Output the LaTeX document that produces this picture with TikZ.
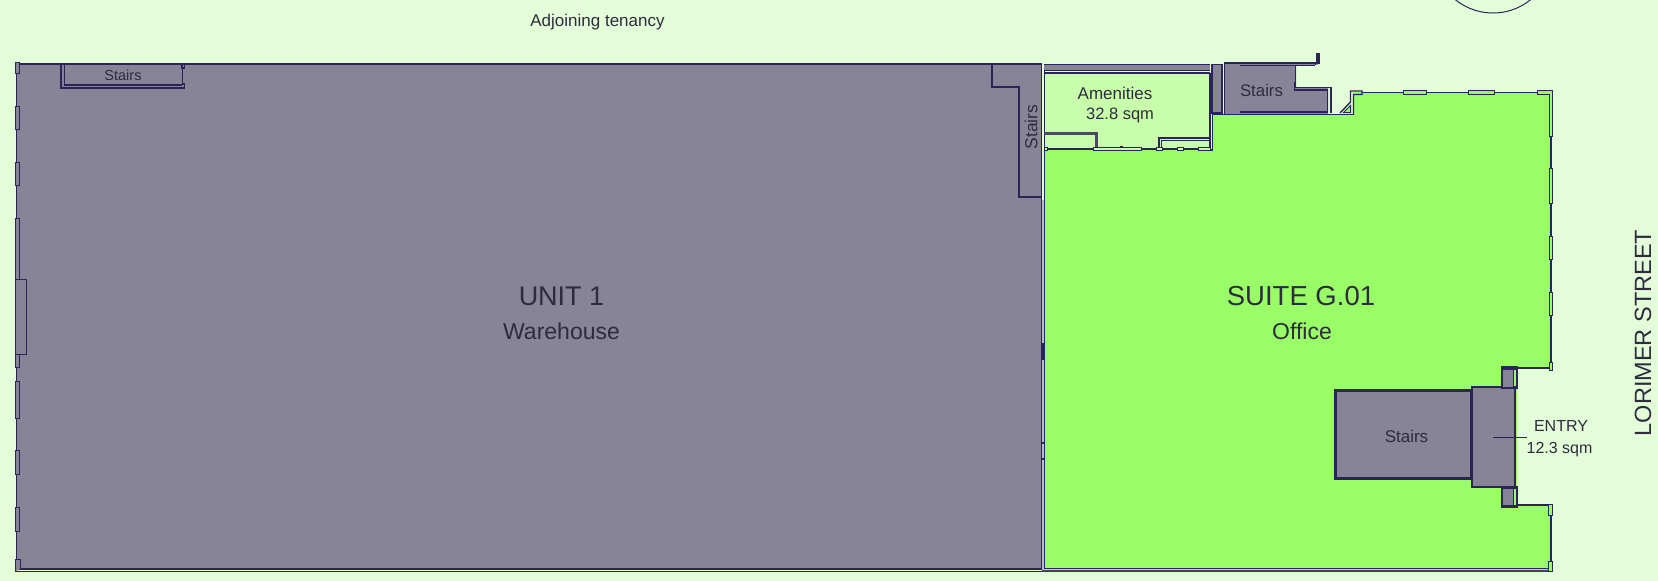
\documentclass[tikz,border=0pt]{standalone}
\usepackage{fontspec}
\setmainfont{Liberation Sans}
\definecolor{bgc}{HTML}{E3FDD8}
\definecolor{suitec}{HTML}{98FD66}
\definecolor{amenc}{HTML}{C8FDAC}
\definecolor{greyc}{HTML}{888498}
\definecolor{linec}{HTML}{2A2458}
\definecolor{textc}{HTML}{2F2B3E}
\definecolor{softwall}{HTML}{4C4A62}
\tikzset{
 wall/.style={draw=linec,line width=1.4pt,line join=miter},
 thin wall/.style={draw=linec,line width=1pt},
 thick wall/.style={draw=linec,line width=3.4pt},
 grey wall/.style={draw=softwall,line width=3.2pt},
 win/.style={draw=linec,line width=1pt,fill=greyc},
 wing/.style={draw=linec,line width=1pt,fill=suitec},
 lab/.style={text=textc,inner sep=0pt,anchor=center},
}
\begin{document}
\begin{tikzpicture}[x=1pt,y=-1pt]
\useasboundingbox (0,0) rectangle (1658,581);
\fill[bgc] (0,0) rectangle (1658,581);
\begin{scope}
\clip (0,0) rectangle (1658,581);
\draw[thin wall] (1493,-47) circle (60);
\end{scope}
% suite floor
\fill[suitec] (1044,149) -- (1212,149) -- (1212,114) -- (1353,114) -- (1353,92) -- (1551,92) -- (1551,368) -- (1517,368) -- (1517,505) -- (1551,505) -- (1551,570) -- (1044,570) -- cycle;
% amenities
\fill[amenc] (1044,72) rectangle (1210,149);
% unit 1
\fill[greyc] (16.5,64) rectangle (1042,570);
\fill[greyc!55!white] (1042,200) rectangle (1044,570);
\draw[wall] (16.5,64) -- (1042,64);
\draw[wall] (16.5,64) -- (16.5,569) -- (1042,569);
\draw[wall] (15,571.5) -- (1042,571.5);
\draw[wall] (1041.5,64) -- (1041.5,570);
\draw[wall] (1044.5,65) -- (1044.5,569);
\draw[wall] (1045,568.5) -- (1550,568.5);
\draw[wall,draw=linec!70!gray] (1042,571) -- (1552,571) -- (1552,561);
% left windows
\foreach \a/\b in {62/73.7,106.5/129.4,162/185,218/279,354/367,381/418.5,450/474,507/531}
  \draw[win] (15.5,\a) rectangle (19.3,\b);
\draw[win] (15.5,279) rectangle (26.7,354);
\draw[win] (15.5,571.5) -- (15.5,559.5) -- (20,559.5) -- (20,569);
% top-left stairs
\draw[wall] (61,64) -- (61,88) -- (184.5,88) -- (184.5,84) -- (182.3,84) -- (182.3,68);
\draw[wall] (64.3,64) -- (64.3,85) -- (182,85);
\draw[wall] (182,64) -- (182,68) -- (184.5,68) -- (184.5,64);
% centre stairs
\draw[wall] (992,64) -- (992,87) -- (1019,87) -- (1019,197) -- (1042,197);
% centre wall details
\fill[linec] (1041,343) rectangle (1044,360);
\draw[wall] (1042,443) -- (1045,443);
\draw[wall] (1042,459) -- (1045,459);
% amenities top strip
\fill[greyc] (1044,65) rectangle (1210,71);
\draw[wall] (1044,64.5) -- (1210,64.5);
\draw[wall] (1044,70.5) -- (1210,70.5);
\draw[wall] (1044,73) -- (1210,73);
% amenities side and lower wall
\draw[wall] (1210,73) -- (1210,148);
\draw[wall] (1212.5,114) -- (1212.5,150) -- (1199,150);
\draw[wall] (1044,149) -- (1198,149);
\draw[grey wall] (1044,133.5) -- (1096.5,133.5) -- (1096.5,148);
\draw[wall] (1159,148) -- (1159,138) -- (1210,138);
\draw[wall] (1161.5,148) -- (1161.5,140.5) -- (1210,140.5);
\draw[wing,fill=amenc] (1093,147.5) rectangle (1141,150.5);
\fill[linec] (1120,145.5) rectangle (1123,148);
\draw[wing,fill=amenc] (1156,147.5) rectangle (1162,150.5);
\draw[wing,fill=amenc] (1177,147.5) rectangle (1183,150.5);
\draw[wing,fill=amenc] (1198,147.5) rectangle (1210,150.5);
\draw[wing,fill=amenc] (1044,147.5) rectangle (1047,150.5);
% narrow grey rect
\draw[win,line width=1.4pt] (1212,64.5) rectangle (1222,113);
\draw[wall] (1212,114.5) -- (1224,114.5);
% stairs at top
\fill[greyc] (1224,63) -- (1296,63) -- (1296,88) -- (1328,88) -- (1328,114) -- (1224,114) -- cycle;
\draw[wall] (1224.5,114) -- (1224.5,63) -- (1240,63);
\fill[greyc] (1240,62) rectangle (1318,65);
\draw[wall] (1240,63) -- (1319,63) -- (1319,53);
\draw[wall] (1240,65.5) -- (1315,65.5);
\draw[wall] (1315.5,65) -- (1315.5,62);
\fill[linec] (1315.5,52.5) rectangle (1319,63);
\fill[greyc] (1240,63.8) rectangle (1315,64.6);
\draw[wall] (1295.5,65) -- (1295.5,88);
\draw[wall] (1294.5,82) -- (1294.5,90) -- (1328,90);
\draw[wall] (1296,87.5) -- (1331,87.5) -- (1331,113);
\draw[wall] (1327.5,90) -- (1327.5,113);
\draw[wall] (1224,114.5) -- (1353,114.5);
\draw[wall] (1240,112) -- (1328,112);
% corner and triangle
\draw[wall] (1340,113) -- (1350.5,102) -- (1350.5,91) -- (1362,91) -- (1362,94.5) -- (1353.5,94.5) -- (1353.5,115);
\draw[wing] (1343.5,112.5) -- (1350.5,105.5) -- (1350.5,112.5) -- cycle;
% top line and windows
\draw[wall] (1362,92.5) -- (1551,92.5);
\draw[wing] (1403,90.5) rectangle (1426,94.7);
\draw[wing] (1468,90.5) rectangle (1494,94.7);
\draw[wing] (1537,90.5) -- (1552,90.5) -- (1552,136) -- (1549,136) -- (1549,94.7) -- (1537,94.7) -- cycle;
% right wall
\draw[wall] (1551,136) -- (1551,368) -- (1517,368);
\foreach \a/\b in {168/203,236/259,292/315,362/370}
  \draw[wing] (1549,\a) rectangle (1552.5,\b);
\draw[wall] (1517,505) -- (1551,505) -- (1551,570);
\draw[wing] (1548.5,504) rectangle (1552,515);
\draw[wing] (1548.5,561) rectangle (1552,571);
% entry and lower stairs
\draw[thick wall,fill=greyc] (1335.5,390.5) rectangle (1472,478.5);
\draw[wall,fill=greyc] (1472,387) rectangle (1515,487);
\draw[wall,line width=2.4pt] (1472,386) -- (1472,488);
% small blocks
\draw[wall,fill=greyc] (1502,367) rectangle (1513.5,388);
\draw[wall] (1513.5,367) -- (1517,367) -- (1517,388) -- (1502,388);
\fill[linec] (1502,366.5) rectangle (1517,369.5);
\draw[wall,fill=greyc] (1502,486.5) rectangle (1513.5,507);
\draw[wall] (1513.5,486.5) -- (1517,486.5) -- (1517,507) -- (1502,507);
\fill[linec] (1502,486) rectangle (1517,489);
\fill[linec] (1502,505) rectangle (1517,508);
% entry tick
\coordinate (tickA) at (1493,437);
\coordinate (tickB) at (1527,437);
\draw[thin wall] (tickA) -- (tickB);
% labels
\node[lab,font=\fontsize{17}{19}\selectfont] (adj) at (597.5,22.5) {Adjoining tenancy};
\node[lab,font=\fontsize{14.5}{16}\selectfont] (s1) at (123,75) {Stairs};
\node[lab,font=\fontsize{17.5}{19}\selectfont,rotate=90] (s2) at (1031,127) {Stairs};
\node[lab,font=\fontsize{16.8}{19}\selectfont] (s3) at (1261.5,90) {Stairs};
\node[lab,font=\fontsize{17}{19}\selectfont] (s4) at (1406.5,436.5) {Stairs};
\node[lab,font=\fontsize{17}{19}\selectfont] (am1) at (1115,93.5) {Amenities};
\node[lab,font=\fontsize{16.5}{19}\selectfont] (am2) at (1120,115.5) {32.8 sqm};
\node[lab,font=\fontsize{27}{32}\selectfont] (u1) at (561.5,296) {UNIT 1};
\node[lab,font=\fontsize{23}{26}\selectfont] (u2) at (561.5,331) {Warehouse};
\node[lab,font=\fontsize{27.5}{32}\selectfont] (g1) at (1301,296) {SUITE G.01};
\node[lab,font=\fontsize{23}{26}\selectfont] (g2) at (1302,331) {Office};
\node[lab,font=\fontsize{16}{19}\selectfont] (e1) at (1561,426) {ENTRY};
\node[lab,font=\fontsize{16}{19}\selectfont] (e2) at (1559.5,449.5) {12.3 sqm};
\node[lab,font=\fontsize{23.5}{27}\selectfont,rotate=90] (lor) at (1643,333) {LORIMER STREET};
\end{tikzpicture}
\end{document}
